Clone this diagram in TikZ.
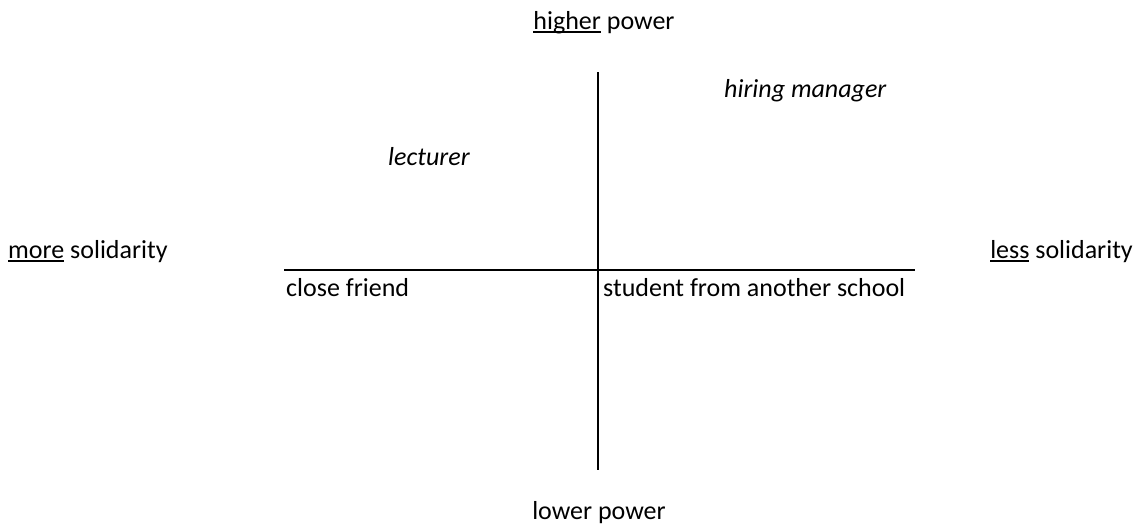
\documentclass[tikz,border=0pt]{standalone}
\usepackage{fontspec}
\setmainfont{Carlito}
\newcommand{\uln}[1]{\setbox0\hbox{#1}\rlap{\rule[-3.8pt]{\wd0}{1.4pt}}\box0\relax}
\begin{document}
\begin{tikzpicture}[x=1pt,y=-1pt,
  lbl/.style={inner sep=0pt,font=\fontsize{26}{30}\selectfont},
  ilbl/.style={lbl,font=\fontsize{26}{30}\selectfont\itshape},
  axis/.style={line width=1.8pt,black}]
\useasboundingbox (0,0) rectangle (1143,531);
\coordinate (vt) at (598,72);
\coordinate (vb) at (598,470);
\coordinate (hl) at (284,270);
\coordinate (hr) at (915,270);
\draw[axis] (vt) -- (vb);
\draw[axis] (hl) -- (hr);
\node[lbl,anchor=base] (hp) at (604,29) {\uln{higher} power};
\node[lbl,anchor=base] (lp) at (599,519) {lower power};
\node[lbl,anchor=base west] (ms) at (8,258) {\uln{more} solidarity};
\node[lbl,anchor=base east] (ls) at (1133,258) {\uln{less} solidarity};
\node[lbl,anchor=base west] (cf) at (286,296) {close friend};
\node[lbl,anchor=base west] (st) at (603,296) {student from another school};
\node[ilbl,anchor=base west] (lec) at (388,165) {lecturer};
\node[ilbl,anchor=base west] (hm) at (724,97) {hiring manager};
\end{tikzpicture}
\end{document}
